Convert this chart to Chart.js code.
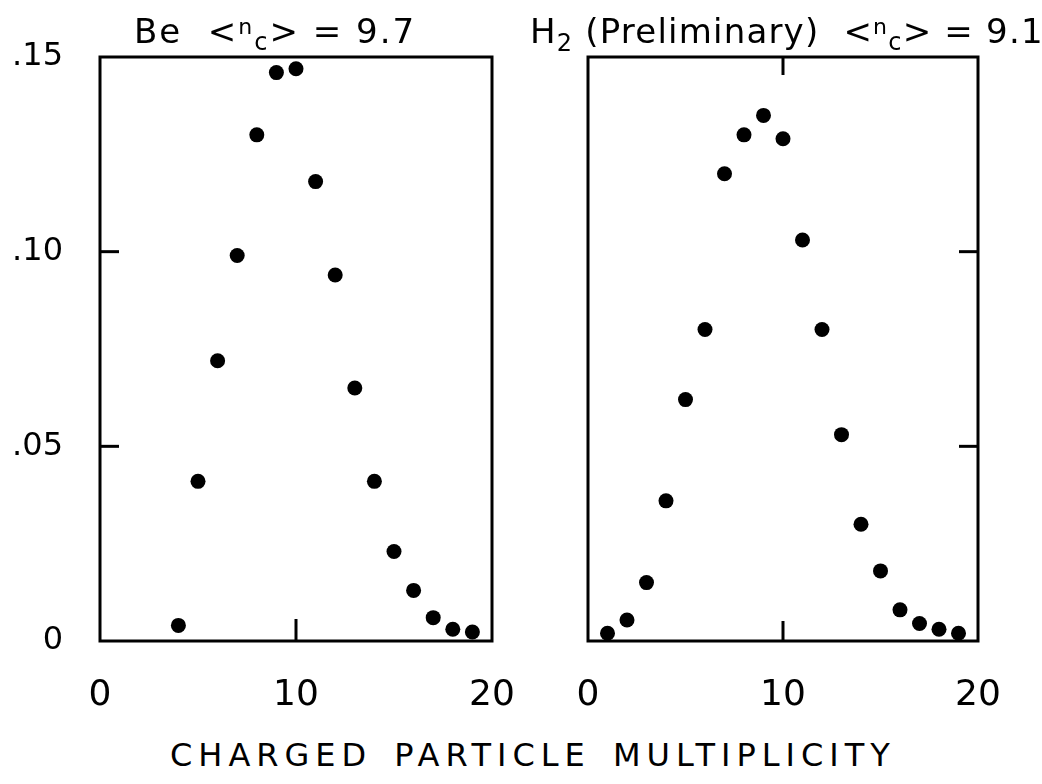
<!DOCTYPE html>
<html>
<head>
<meta charset="utf-8">
<title>Charged particle multiplicity</title>
<script src="https://cdn.jsdelivr.net/npm/chart.js@4.4.0/dist/chart.umd.min.js"></script>
<style>
  html, body { margin:0; padding:0; background:#fff; }
  #page { position:relative; width:1042px; height:784px; overflow:hidden; font-family:"DejaVu Sans", sans-serif; color:#000; }
  canvas { position:absolute; top:0; }
  #beChart { left:0; }
  #h2Chart { left:520px; }
  .ttl { position:absolute; white-space:pre; font-size:34px; line-height:1; }
  .ttl .n { font-size:22px; position:relative; top:-9px; }
  .ttl .c { font-size:24px; position:relative; top:7px; }
  #ttl-be { left:134px; top:14px; letter-spacing:2px; }
  #ttl-h2 { left:530px; top:14px; letter-spacing:1.2px; }
  #ttl-h2 .sub2 { font-size:24px; position:relative; top:8px; }
  #xlabel { position:absolute; left:170px; top:736px; font-size:32px; letter-spacing:6px; word-spacing:6px; white-space:pre; }
</style>
</head>
<body>
<div id="page">
  <canvas id="beChart" width="520" height="720"></canvas>
  <canvas id="h2Chart" width="522" height="720"></canvas>
  <div class="ttl" id="ttl-be">Be  &lt;<span class="n">n</span><span class="c">c</span>&gt; = 9.7</div>
  <div class="ttl" id="ttl-h2">H<span class="sub2">2</span> (Preliminary)  &lt;<span class="n">n</span><span class="c">c</span>&gt; = 9.1</div>
  <div id="xlabel">CHARGED PARTICLE MULTIPLICITY</div>
</div>
<script>
/* ── data ── */
const MULT_BE = [4,5,6,7,8,9,10,11,12,13,14,15,16,17,18,19];
const PROB_BE = [0.004,0.041,0.072,0.099,0.130,0.146,0.147,0.118,0.094,0.065,0.041,0.023,0.013,0.006,0.003,0.0023];

const MULT_H2 = [1,2,3,4,5,6,7,8,9,10,11,12,13,14,15,16,17,18,19];
const PROB_H2 = [0.002,0.0054,0.015,0.036,0.062,0.080,0.120,0.130,0.135,0.129,0.103,0.080,0.053,0.030,0.018,0.008,0.0045,0.003,0.002];

const X_TICKS = [0,10,20];
const Y_TICKS = [0,0.05,0.10,0.15];

const fmtY = v => v === 0 ? '0' : v.toFixed(2).replace(/^0/, '');

/* box around the plot + short inward tick marks */
const framePlugin = {
  id:'frame',
  afterDraw(chart, args, opts) {
    const { ctx, chartArea:a, scales } = chart;
    ctx.save();
    ctx.strokeStyle = '#000';
    ctx.lineWidth = 3;
    ctx.strokeRect(a.left, a.top, a.right - a.left, a.bottom - a.top);
    (opts.marks || []).forEach(m => {
      ctx.beginPath();
      if (m.side === 'left' || m.side === 'right') {
        const y = scales.y.getPixelForValue(m.value);
        const x0 = m.side === 'left' ? a.left : a.right;
        ctx.moveTo(x0, y);
        ctx.lineTo(m.side === 'left' ? x0 + m.len : x0 - m.len, y);
      } else {
        const x = scales.x.getPixelForValue(m.value);
        const y0 = m.side === 'bottom' ? a.bottom : a.top;
        ctx.moveTo(x, y0);
        ctx.lineTo(x, m.side === 'bottom' ? y0 - m.len : y0 + m.len);
      }
      ctx.stroke();
    });
    ctx.restore();
  }
};

function buildPanel(id, xs, ys, cfg) {
  const ctx = document.getElementById(id).getContext('2d');
  return new Chart(ctx, {
    type:'scatter',
    data:{ datasets:[{ data: xs.map((x,i)=>({x, y: ys[i]})), backgroundColor:'#000', borderWidth:0, pointRadius:7.5, pointHoverRadius:7.5, clip:false }] },
    options:{
      responsive:false, animation:false, events:[],
      layout:{ padding:{ top:57, bottom:0, left:cfg.padLeft, right:cfg.padRight } },
      plugins:{ legend:{display:false}, tooltip:{enabled:false}, frame:{ marks:cfg.marks } },
      scales:{
        x:{
          type:'linear', min:0, max:20,
          afterBuildTicks: s => { s.ticks = X_TICKS.map(v=>({value:v})); },
          afterFit: s => { s.height = 79; s.paddingLeft = 0; s.paddingRight = 0; },
          grid:{ display:false, drawTicks:false }, border:{ display:false },
          ticks:{ color:'#000', font:{ size:36, family:'DejaVu Sans' }, padding:33, maxRotation:0, autoSkip:false }
        },
        y:{
          type:'linear', min:0, max:0.15, display:cfg.showY,
          afterBuildTicks: s => { s.ticks = Y_TICKS.map(v=>({value:v})); },
          afterFit: s => { s.width = cfg.showY ? 100 : 0; s.paddingTop = 0; s.paddingBottom = 0; },
          grid:{ display:false, drawTicks:false }, border:{ display:false },
          ticks:{ color:'#000', font:{ size:32, family:'DejaVu Sans' }, padding:37, callback: v => fmtY(v) }
        }
      }
    },
    plugins:[framePlugin]
  });
}

window.addEventListener('DOMContentLoaded', () => {
  buildPanel('beChart', MULT_BE, PROB_BE, {
    showY:true, padLeft:0, padRight:28,
    marks:[ {side:'left',value:0.10,len:19}, {side:'left',value:0.05,len:19}, {side:'bottom',value:10,len:22} ]
  });
  buildPanel('h2Chart', MULT_H2, PROB_H2, {
    showY:false, padLeft:68, padRight:64,
    marks:[ {side:'right',value:0.10,len:19}, {side:'right',value:0.05,len:19}, {side:'bottom',value:10,len:20}, {side:'top',value:10,len:18} ]
  });
});
</script>
</body>
</html>
